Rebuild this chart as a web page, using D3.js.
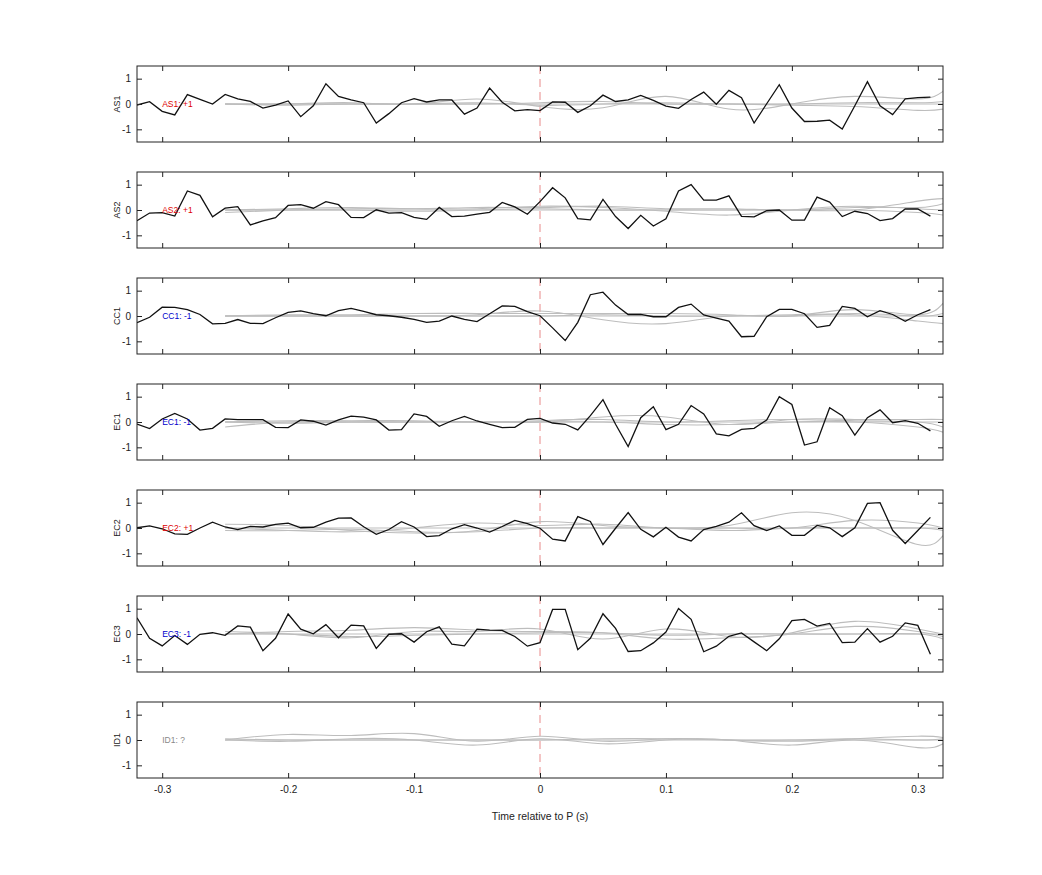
<!DOCTYPE html>
<html><head><meta charset="utf-8">
<script src="https://cdn.jsdelivr.net/npm/d3@7"></script>
<style>body{margin:0;background:#fff}svg{font-family:"Liberation Sans",Arial,sans-serif}</style>
</head><body><svg id="c" width="1042" height="875"></svg>
<script>
const channels = ["AS1","AS2","CC1","EC1","EC2","EC3","ID1"];
const signs = ["+1","+1","-1","-1","+1","-1","?"];
const signColors = {"+1":"#dd0000","-1":"#0000cc","?":"#888888"};
const xTicks = [-0.3,-0.2,-0.1,0,0.1,0.2,0.3];
const yTicks = [-1,0,1];
const tBlack = d3.range(64).map(i => -0.32 + i*0.01);
const tGray = [-0.25,-0.2,-0.15,-0.1,-0.05,0,0.05,0.1,0.15,0.2,0.25,0.3,0.32];

const blackAS1 = [-0.04,0.09,-0.29,-0.43,0.37,0.18,0.0,0.38,0.2,0.1,-0.16,-0.04,0.12,-0.5,-0.07,0.8,0.3,0.16,0.05,-0.75,-0.38,0.05,0.21,0.08,0.16,0.16,-0.4,-0.16,0.63,0.07,-0.27,-0.22,-0.26,0.08,0.07,-0.33,-0.07,0.35,0.1,0.16,0.34,0.14,-0.08,-0.17,0.18,0.47,-0.01,0.54,0.25,-0.75,0.01,0.76,-0.16,-0.69,-0.68,-0.64,-0.99,-0.07,0.88,-0.07,-0.42,0.2,0.25,0.27];
const blackAS2 = [-0.42,-0.12,-0.1,-0.24,0.75,0.58,-0.27,0.07,0.13,-0.59,-0.43,-0.3,0.18,0.21,0.07,0.33,0.21,-0.29,-0.3,0.01,-0.12,-0.1,-0.29,-0.37,0.1,-0.26,-0.24,-0.16,-0.09,0.3,0.12,-0.17,0.33,0.88,0.48,-0.34,-0.39,0.42,-0.26,-0.73,-0.21,-0.63,-0.35,0.75,1.0,0.39,0.39,0.56,-0.25,-0.27,-0.03,0.0,-0.4,-0.4,0.51,0.31,-0.26,-0.05,-0.14,-0.42,-0.34,0.04,0.04,-0.24];
const blackCC1 = [-0.26,-0.05,0.35,0.34,0.25,0.06,-0.31,-0.29,-0.14,-0.29,-0.3,-0.07,0.14,0.2,0.09,0.01,0.21,0.3,0.18,0.05,0.01,-0.05,-0.13,-0.25,-0.2,0,-0.13,-0.22,0.09,0.4,0.38,0.17,0.01,-0.47,-0.97,-0.25,0.84,0.94,0.43,0.06,0.06,-0.03,-0.03,0.34,0.47,0.04,-0.08,-0.2,-0.82,-0.8,-0.03,0.26,0.26,0.09,-0.45,-0.37,0.38,0.3,-0.03,0.21,0.06,-0.21,0.05,0.25];
const blackEC1 = [-0.08,-0.26,0.12,0.34,0.12,-0.32,-0.25,0.12,0.09,0.09,0.09,-0.21,-0.22,0.08,0.03,-0.12,0.08,0.23,0.19,0.08,-0.32,-0.3,0.32,0.22,-0.17,0.05,0.22,0.04,-0.09,-0.22,-0.21,0.1,0.14,-0.04,-0.09,-0.31,0.25,0.88,-0.09,-0.97,0.17,0.6,-0.3,-0.09,0.65,0.32,-0.47,-0.55,-0.29,-0.25,0.08,1.0,0.69,-0.91,-0.78,0.56,0.25,-0.52,0.17,0.48,-0.03,0.05,-0.05,-0.35];
const blackEC2 = [0.01,0.08,-0.03,-0.23,-0.25,0,0.23,0.04,-0.06,0.06,0.04,0.14,0.19,0.01,0.03,0.23,0.39,0.4,0.05,-0.25,-0.06,0.25,0.04,-0.34,-0.3,-0.03,0.13,0,-0.16,0.06,0.3,0.17,-0.01,-0.44,-0.51,0.45,0.26,-0.65,-0.01,0.61,-0.05,-0.35,0.03,-0.36,-0.51,-0.06,0.06,0.23,0.6,0.09,-0.1,0.08,-0.29,-0.29,0.1,0.01,-0.34,0.01,0.97,1.0,-0.09,-0.61,-0.1,0.42];
const blackEC3 = [0.64,-0.17,-0.47,-0.06,-0.41,-0.01,0.05,-0.05,0.32,0.27,-0.66,-0.17,0.79,0.19,0.01,0.37,-0.15,0.35,0.32,-0.57,-0.01,0.01,-0.32,0.09,0.28,-0.4,-0.47,0.19,0.15,0.14,-0.1,-0.48,-0.34,0.97,0.97,-0.62,-0.17,0.8,0.22,-0.69,-0.66,-0.35,0.08,1.01,0.58,-0.7,-0.48,-0.09,0.04,-0.31,-0.66,-0.19,0.53,0.58,0.31,0.42,-0.34,-0.32,0.21,-0.32,-0.09,0.44,0.34,-0.8];
const blackSeries = [blackAS1,blackAS2,blackCC1,blackEC1,blackEC2,blackEC3,null];

const grayAS1 = [[0,0,0,0,0.05,-0.05,0,0.05,0,0,0.05,0.05,0.1],[0,0,0.05,0,0.2,-0.1,-0.15,0.3,-0.2,0,0.3,0.2,0.5],[0,-0.05,0,0,0,0.05,0.1,0,0,-0.05,-0.1,-0.25,-0.2],[0,0,0,0,0,0,0,0,0,0,0,0,0]];
const grayAS2 = [[-0.1,0,0.05,0.05,0.05,0.15,0.1,-0.05,-0.2,0,0.15,0.05,0],[0,0.05,0.1,0.05,0.1,0.1,0.15,0.05,0.05,0,0.1,0.1,0.25],[0,0,0,-0.05,0,0.05,0,0,0,0,0,0.35,0.45],[0,0,0,0,0,0,0,0,0,0,0,-0.1,-0.2]];
const grayCC1 = [[0,0,0,0,0.05,0.2,-0.15,-0.3,0,0,0.1,0,0.1],[0,0.05,0.05,0.1,0.1,0.1,0.1,0.1,0.05,0,0.25,0.05,0.5],[0,0,0,0,0,0,0.05,0,0,0.05,0.05,-0.2,-0.3],[0,0,0,0,0,0,0,0,0,0,0,0,0]];
const grayEC1 = [[-0.2,0,0,0,0,0,0.2,0.2,-0.1,0.1,0.1,0.1,0.1],[0,0.05,0.05,0.05,0,0.05,0.1,0,0.05,0.1,0.05,0,-0.2],[0,-0.05,0,0,0,0,0,-0.1,-0.1,0,0,-0.2,-0.4],[0,0,0,0,0,0,0,0,0,0,0,0,0]];
const grayEC2 = [[0.15,0.1,-0.1,-0.2,-0.1,0.25,0.1,0,0.1,0.6,0.3,-0.65,-0.3],[0,-0.1,-0.15,0,0.2,0.1,0.15,0,0,0,0.3,0.2,0],[-0.1,-0.1,-0.05,-0.15,-0.15,0,0,0,-0.1,0,0,0,-0.1],[0,0,0,0,0,0,0,0,0,0,0,0,0]];
const grayEC3 = [[0.1,0,-0.15,0.1,0.1,0.2,-0.2,0.2,-0.1,0.05,0.5,0.2,0],[0,0.1,0.15,0.25,0.15,0.1,0.05,-0.2,-0.15,0,0.3,0.1,-0.1],[0,0,-0.1,-0.05,0,0.05,0.05,-0.05,0,0,0,0,-0.2],[0,0,0,0,0,0,0,0,0,0,0,0,0]];
const grayID1 = [[0,0.22,0.18,0.25,-0.05,0.15,-0.05,0.05,0,-0.05,0.05,0.15,0.1],[0,-0.05,0.05,0,-0.2,0.05,-0.15,0,0,-0.2,0,-0.3,-0.15],[0.05,0,0,0,0,0,0.05,0.05,0,0,0.05,0,0.05],[0,0,0,0,0,0,0,0,0,0,0,0,0]];
const graySeries = [grayAS1,grayAS2,grayCC1,grayEC1,grayEC2,grayEC3,grayID1];

const svg = d3.select("#c");
const L = 137, R = 943, top0 = 66, ph = 76, step = 106;
const x = d3.scaleLinear().domain([-0.32,0.32]).range([L,R]);
const fmt = d => String(d);

channels.forEach((ch,i) => {
  const y0 = top0 + i*step;
  const y = d3.scaleLinear().domain([-1.5,1.5]).range([y0+ph, y0]);
  const g = svg.append("g");
  const clipId = "clip"+i;
  g.append("clipPath").attr("id",clipId).append("rect").attr("x",L).attr("y",y0).attr("width",R-L).attr("height",ph);
  const plot = g.append("g").attr("clip-path",`url(#${clipId})`);
  plot.append("line").attr("x1",x(0)).attr("x2",x(0)).attr("y1",y0).attr("y2",y0+ph)
    .attr("stroke","#e88a8a").attr("stroke-width",1).attr("stroke-dasharray","8,5");
  const gl = d3.line().x((d,j)=>x(tGray[j])).y(d=>y(d)).curve(d3.curveNatural);
  graySeries[i].forEach(s => plot.append("path").attr("d",gl(s)).attr("fill","none").attr("stroke","#bdbdbd").attr("stroke-width",1.1));
  if (blackSeries[i]) {
    const bl = d3.line().x((d,j)=>x(tBlack[j])).y(d=>y(d));
    plot.append("path").attr("d",bl(blackSeries[i])).attr("fill","none").attr("stroke","#111").attr("stroke-width",1.3);
  }
  const ax = g.append("g");
  ax.append("g").attr("transform",`translate(0,${y0+ph})`).call(d3.axisBottom(x).tickValues(xTicks).tickSizeInner(-5).tickSizeOuter(0).tickPadding(8).tickFormat(i===6?fmt:()=>""));
  ax.append("g").attr("transform",`translate(0,${y0})`).call(d3.axisTop(x).tickValues(xTicks).tickSizeInner(-5).tickSizeOuter(0).tickFormat(()=>""));
  ax.append("g").attr("transform",`translate(${L},0)`).call(d3.axisLeft(y).tickValues(yTicks).tickSizeInner(-5).tickSizeOuter(0).tickPadding(6).tickFormat(fmt));
  ax.append("g").attr("transform",`translate(${R},0)`).call(d3.axisRight(y).tickValues(yTicks).tickSizeInner(-5).tickSizeOuter(0).tickFormat(()=>""));
  ax.selectAll("path.domain").remove();
  ax.selectAll(".tick line").attr("stroke","#222");
  ax.selectAll(".tick text").attr("font-size",10).attr("fill","#222");
  g.append("rect").attr("x",L).attr("y",y0).attr("width",R-L).attr("height",ph).attr("fill","none").attr("stroke","#222").attr("stroke-width",1);
  g.append("text").attr("transform",`translate(${L-17},${y(0)}) rotate(-90)`).attr("text-anchor","middle").attr("font-size",9).attr("fill","#222").text(ch);
  g.append("text").attr("x",x(-0.3)).attr("y",y(0)+3).attr("font-size",8.5).attr("fill",signColors[signs[i]]).text(`${ch}: ${signs[i]}`);
});
svg.append("text").attr("x",x(0)).attr("y",820).attr("text-anchor","middle").attr("font-size",10.5).attr("fill","#222").text("Time relative to P (s)");
</script></body></html>
